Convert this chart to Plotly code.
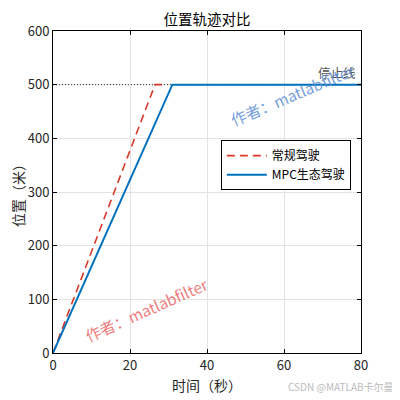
import plotly.graph_objects as go

# Data
t_normal = [0, 26.5, 29.3]
pos_normal = [0, 500, 500]
t_mpc = [0, 31, 80]
pos_mpc = [0, 500, 500]
stop_line = 500
x_ticks = [0, 20, 40, 60, 80]
y_ticks = [0, 100, 200, 300, 400, 500, 600]

FONT = "Noto Sans CJK SC"
TXT = "#262626"

fig = go.Figure()
fig.add_trace(go.Scatter(x=[0, 80], y=[stop_line, stop_line], mode="lines",
                         line=dict(color="#333333", width=1, dash="1px,2px"),
                         showlegend=False, hoverinfo="skip"))
fig.add_trace(go.Scatter(x=t_normal, y=pos_normal, mode="lines", name="常规驾驶",
                         line=dict(color="#D9392B", width=1.6, dash="8px,5px")))
fig.add_trace(go.Scatter(x=t_mpc, y=pos_mpc, mode="lines", name="MPC生态驾驶",
                         line=dict(color="#0072BD", width=2)))

axis_common = dict(showline=True, linecolor="black", linewidth=1, mirror="ticks",
                   ticks="inside", ticklen=4, tickcolor="black", automargin=False,
                   showgrid=True, gridcolor="#E3E3E3", gridwidth=1, zeroline=False,
                   tickfont=dict(size=13, color=TXT, family=FONT))

fig.update_xaxes(range=[0, 80], tickvals=x_ticks,
                 title=dict(text="时间（秒）", font=dict(size=14, color=TXT, family=FONT), standoff=8),
                 **axis_common)
fig.update_yaxes(range=[0, 600], tickvals=y_ticks, **axis_common)

# y-axis title placed as annotation
fig.add_annotation(x=-0.114, y=0.5, xref="paper", yref="paper", text="位置（米）",
                   showarrow=False, textangle=-90, xanchor="center", yanchor="middle",
                   font=dict(size=14, color=TXT, family=FONT))

fig.add_annotation(x=80, y=stop_line, xref="x", yref="y", text="停止线", showarrow=False,
                   xanchor="right", yanchor="bottom", yshift=1, xshift=-3,
                   font=dict(size=12.5, color="#555555", family=FONT))

fig.add_annotation(x=0.779, y=0.804, xref="paper", yref="paper", text="作者：matlabfilter",
                   showarrow=False, textangle=-23, xanchor="center", yanchor="middle",
                   font=dict(size=15.5, color="rgba(90,140,215,0.85)", family=FONT))
fig.add_annotation(x=0.305, y=0.137, xref="paper", yref="paper", text="作者：matlabfilter",
                   showarrow=False, textangle=-24, xanchor="center", yanchor="middle",
                   font=dict(size=15.5, color="rgba(235,100,100,0.85)", family=FONT))
fig.add_annotation(x=1.115, y=-0.105, xref="paper", yref="paper", text="CSDN @MATLAB卡尔曼",
                   showarrow=False, xanchor="right", yanchor="middle",
                   font=dict(size=10, color="#BBBBBB", family=FONT))

fig.update_layout(
    width=392, height=392,
    margin=dict(l=45, r=39, t=23, b=47),
    paper_bgcolor="white", plot_bgcolor="white",
    title=dict(text="位置轨迹对比", x=0.5, xref="paper", xanchor="center", y=1, yanchor="bottom",
               yref="paper", pad=dict(b=6),
               font=dict(size=14.5, color="black", family=FONT)),
    legend=dict(x=0.545, y=0.661, xanchor="left", yanchor="top",
                bordercolor="black", borderwidth=1, bgcolor="white",
                font=dict(size=12, color="black", family=FONT),
                tracegroupgap=0, itemwidth=40),
    font=dict(family=FONT),
)

fig.write_html("out.html")
